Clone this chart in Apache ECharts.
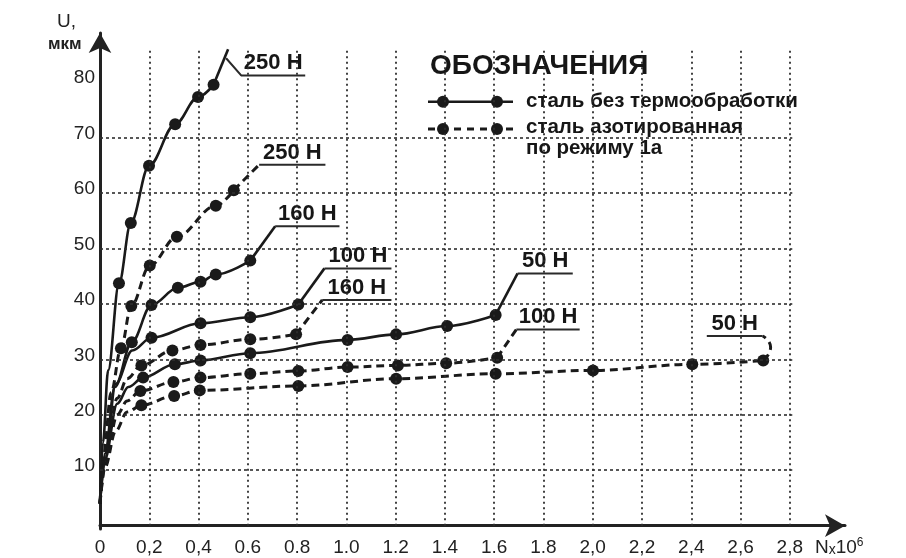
<!DOCTYPE html>
<html><head><meta charset="utf-8">
<script src="https://cdn.jsdelivr.net/npm/echarts@6/dist/echarts.min.js"></script>
<style>html,body{margin:0;padding:0;background:#fff}#c{width:906px;height:558px}</style>
</head><body><div id="c"></div>
<script>
// ---- axis ticks ----
const xTicks = [0, 0.2, 0.4, 0.6, 0.8, 1.0, 1.2, 1.4, 1.6, 1.8, 2.0, 2.2, 2.4, 2.6, 2.8];
const xTickLabels = ['0', '0,2', '0,4', '0.6', '0.8', '1.0', '1.2', '1.4', '1.6', '1.8', '2,0', '2,2', '2,4', '2,6', '2,8'];
const yTicks = [10, 20, 30, 40, 50, 60, 70, 80];
const yGrid = [10, 20, 30, 40, 50, 60, 70];
const vGrid = [0.2, 0.4, 0.6, 0.8, 1.0, 1.2, 1.4, 1.6, 1.8, 2.0, 2.2, 2.4, 2.6, 2.8];
const gridTopValue = 86.3;
const gridRightValue = 2.81;

// ---- curves: сталь без термообработки (solid) ----
const s250Head = [[0, 4], [0.012, 15], [0.033, 28]];
const s250Pts = [[0.077, 43.7], [0.125, 54.6], [0.199, 64.9], [0.305, 72.4], [0.398, 77.3], [0.461, 79.5]];
const s250Tail = [[0.52, 85.9]];
const s250Leader = [[0.512, 84.3], [0.573, 81.2], [0.833, 81.2]];

const s160Head = [[0, 4], [0.02, 13], [0.06, 25]];
const s160Pts = [[0.129, 33.1], [0.209, 39.8], [0.316, 42.9], [0.408, 44.0], [0.470, 45.3], [0.610, 47.8]];
const s160Tail = [[0.711, 54.0]];
const s160Leader = [[0.711, 54.0], [0.972, 54.0]];

const s100Head = [[0, 4], [0.02, 12], [0.064, 25.6], [0.131, 31.6]];
const s100Pts = [[0.209, 33.9], [0.408, 36.5], [0.610, 37.6], [0.805, 39.9]];
const s100Tail = [[0.911, 46.4]];
const s100Leader = [[0.911, 46.4], [1.183, 46.4]];

const s50Head = [[0, 4], [0.02, 12], [0.07, 22], [0.115, 25]];
const s50Pts = [[0.175, 26.7], [0.304, 29.1], [0.408, 29.8], [0.610, 31.1], [1.005, 33.5], [1.202, 34.5], [1.409, 36.0], [1.606, 38.0]];
const s50Tail = [[1.695, 45.5]];
const s50Leader = [[1.695, 45.5], [1.919, 45.5]];

// ---- curves: сталь азотированная по режиму 1а (dashed) ----
const d250Head = [[0, 4], [0.015, 13], [0.045, 24]];
const d250Pts = [[0.085, 32.0], [0.127, 39.6], [0.202, 46.9], [0.312, 52.1], [0.470, 57.7], [0.543, 60.5]];
const d250Tail = [[0.646, 65.1]];
const d250Leader = [[0.646, 65.1], [0.915, 65.1]];

const d160Head = [[0, 4], [0.02, 12], [0.07, 23], [0.11, 26.5]];
const d160Pts = [[0.168, 28.9], [0.294, 31.6], [0.408, 32.6], [0.610, 33.6], [0.796, 34.5]];
const d160Tail = [[0.902, 40.7]];
const d160Leader = [[0.902, 40.7], [1.183, 40.7]];

const d100Head = [[0, 4], [0.02, 11], [0.07, 20], [0.11, 22.5]];
const d100Pts = [[0.164, 24.3], [0.298, 25.9], [0.408, 26.7], [0.610, 27.4], [0.805, 27.9], [1.005, 28.6], [1.209, 28.9], [1.405, 29.3], [1.612, 30.3]];
const d100Tail = [[1.690, 35.4]];
const d100Leader = [[1.690, 35.4], [1.947, 35.4]];

const d50Head = [[0, 4], [0.02, 10.5], [0.064, 17.1], [0.11, 20.5]];
const d50Pts = [[0.168, 21.7], [0.301, 23.4], [0.405, 24.4], [0.805, 25.2], [1.202, 26.5], [1.606, 27.4], [2.001, 28.0], [2.404, 29.1], [2.692, 29.8]];
const d50Tail = [[2.722, 32.2], [2.69, 34.2]];
const d50Leader = [[2.69, 34.2], [2.463, 34.2]];

const curveLabels = ['250 Н', '160 Н', '100 Н', '50 Н', '250 Н', '160 Н', '100 Н', '50 Н'];

const FONT = "'Liberation Sans', Arial, sans-serif";
const INK = '#1a1a1a';
const TXT = '#161616';

const curves = [
  { head: s250Head, pts: s250Pts, tail: s250Tail, leader: s250Leader, dashed: false },
  { head: s160Head, pts: s160Pts, tail: s160Tail, leader: s160Leader, dashed: false },
  { head: s100Head, pts: s100Pts, tail: s100Tail, leader: s100Leader, dashed: false },
  { head: s50Head, pts: s50Pts, tail: s50Tail, leader: s50Leader, dashed: false },
  { head: d250Head, pts: d250Pts, tail: d250Tail, leader: d250Leader, dashed: true },
  { head: d160Head, pts: d160Pts, tail: d160Tail, leader: d160Leader, dashed: true },
  { head: d100Head, pts: d100Pts, tail: d100Tail, leader: d100Leader, dashed: true },
  { head: d50Head, pts: d50Pts, tail: d50Tail, leader: d50Leader, dashed: true }
];

const series = [];

// grid lines (dotted)
const gridMarks = [];
vGrid.forEach(x => gridMarks.push([{ coord: [x, 0], lineStyle: { type: [2, 3.5], width: 1.8, color: '#2e2e2e' } }, { coord: [x, gridTopValue] }]));
yGrid.forEach(y => gridMarks.push([{ coord: [0, y], lineStyle: { type: [3, 3], width: 1.6, color: '#2e2e2e' } }, { coord: [gridRightValue, y] }]));
series.push({
  type: 'line', data: [], z: 1, silent: true,
  markLine: { silent: true, symbol: ['none', 'none'], label: { show: false }, animation: false, data: gridMarks }
});

curves.forEach((c, i) => {
  const style = c.dashed ? { color: INK, width: 3, type: [8, 5] } : { color: INK, width: 2.6, type: 'solid' };
  const data = [];
  c.head.forEach(p => data.push({ value: p, symbol: 'none' }));
  c.pts.forEach(p => data.push({ value: p }));
  series.push({
    type: 'line', data: data, smooth: 0.35, smoothMonotone: 'x', z: 3,
    symbol: 'circle', symbolSize: 12, showAllSymbol: true,
    itemStyle: { color: INK }, lineStyle: style, animation: false, silent: true
  });
  const last = c.pts[c.pts.length - 1];
  const tail = [last].concat(c.tail);
  series.push({
    type: 'line', data: tail, smooth: c.tail.length > 1 ? 0.6 : false, symbol: 'none', z: 3,
    lineStyle: style, animation: false, silent: true
  });
  series.push({
    type: 'line', data: c.leader, symbol: 'none', z: 3,
    lineStyle: { color: '#2a2a2a', width: 2, type: 'solid' }, animation: false, silent: true
  });
  const a = c.leader[c.leader.length - 2], b = c.leader[c.leader.length - 1];
  series.push({
    type: 'scatter', symbolSize: 0, z: 4, silent: true, animation: false,
    itemStyle: { color: TXT, opacity: 1 },
    data: [[(a[0] + b[0]) / 2, a[1]]],
    label: {
      show: true, position: 'top', distance: 1, formatter: curveLabels[i],
      fontFamily: FONT, fontWeight: 'bold', fontSize: 22, color: TXT, opacity: 1,
      textBorderWidth: 0
    }
  });
});

const chart = echarts.init(document.getElementById('c'), null, { renderer: 'canvas' });
chart.setOption({
  backgroundColor: '#fff',
  animation: false,
  grid: { left: 100, right: 61, top: 33, bottom: 29, containLabel: false },
  xAxis: {
    type: 'value', min: 0, max: 3.024,
    axisLine: { show: true, symbol: ['none', 'arrow'], symbolSize: [17, 20], lineStyle: { color: '#222', width: 3 } },
    axisTick: { show: false },
    splitLine: { show: false },
    axisLabel: {
      customValues: xTicks, margin: 9, fontFamily: FONT, fontSize: 19, color: '#222',
      formatter: v => { const k = xTicks.findIndex(t => Math.abs(t - v) < 1e-6); return k >= 0 ? xTickLabels[k] : ''; }
    }
  },
  yAxis: {
    type: 'value', min: -0.6, max: 88.85,
    axisLine: { show: true, symbol: ['none', 'arrow'], symbolSize: [17, 20], lineStyle: { color: '#222', width: 3 } },
    axisTick: { show: false },
    splitLine: { show: false },
    axisLabel: {
      customValues: yTicks, margin: 5, fontFamily: FONT, fontSize: 19, color: '#222',
      verticalAlign: 'bottom', lineHeight: 8
    }
  },
  graphic: [
    { type: 'text', left: 57, top: 12, style: { text: 'U,', font: '19px ' + FONT, fill: '#222' } },
    { type: 'text', left: 48, top: 36, style: { text: 'мкм', font: 'bold 17px ' + FONT, fill: '#222' } },
    { type: 'text', left: 815, top: 537, style: {
      text: '{a|N}{b|x}{a|10}{c|6}', fill: '#222',
      rich: { a: { fontSize: 19, fontFamily: FONT, verticalAlign: 'bottom' }, b: { fontSize: 14, fontFamily: FONT, verticalAlign: 'bottom' }, c: { fontSize: 12, fontFamily: FONT, verticalAlign: 'top', padding: [0, 0, 8, 0] } }
    } },
    { type: 'text', x: 430, y: 66, style: { text: 'ОБОЗНАЧЕНИЯ', font: 'bold 28px ' + FONT, fill: TXT, verticalAlign: 'middle' } },
    { type: 'line', shape: { x1: 428, y1: 101.7, x2: 513, y2: 101.7 }, style: { stroke: INK, lineWidth: 2.6 } },
    { type: 'circle', shape: { cx: 443, cy: 101.7, r: 6 }, style: { fill: INK } },
    { type: 'circle', shape: { cx: 497, cy: 101.7, r: 6 }, style: { fill: INK } },
    { type: 'text', x: 526, y: 101, style: { text: 'сталь без термообработки', font: 'bold 20.5px ' + FONT, fill: TXT, verticalAlign: 'middle' } },
    { type: 'line', shape: { x1: 428, y1: 129, x2: 513, y2: 129 }, style: { stroke: INK, lineWidth: 3, lineDash: [7, 6] } },
    { type: 'circle', shape: { cx: 443, cy: 129, r: 6 }, style: { fill: INK } },
    { type: 'circle', shape: { cx: 497, cy: 129, r: 6 }, style: { fill: INK } },
    { type: 'text', x: 526, y: 127, style: { text: 'сталь азотированная', font: 'bold 20.5px ' + FONT, fill: TXT, verticalAlign: 'middle' } },
    { type: 'text', x: 526, y: 148, style: { text: 'по режиму 1а', font: 'bold 20.5px ' + FONT, fill: TXT, verticalAlign: 'middle' } }
  ],
  series: series
});
</script></body></html>
